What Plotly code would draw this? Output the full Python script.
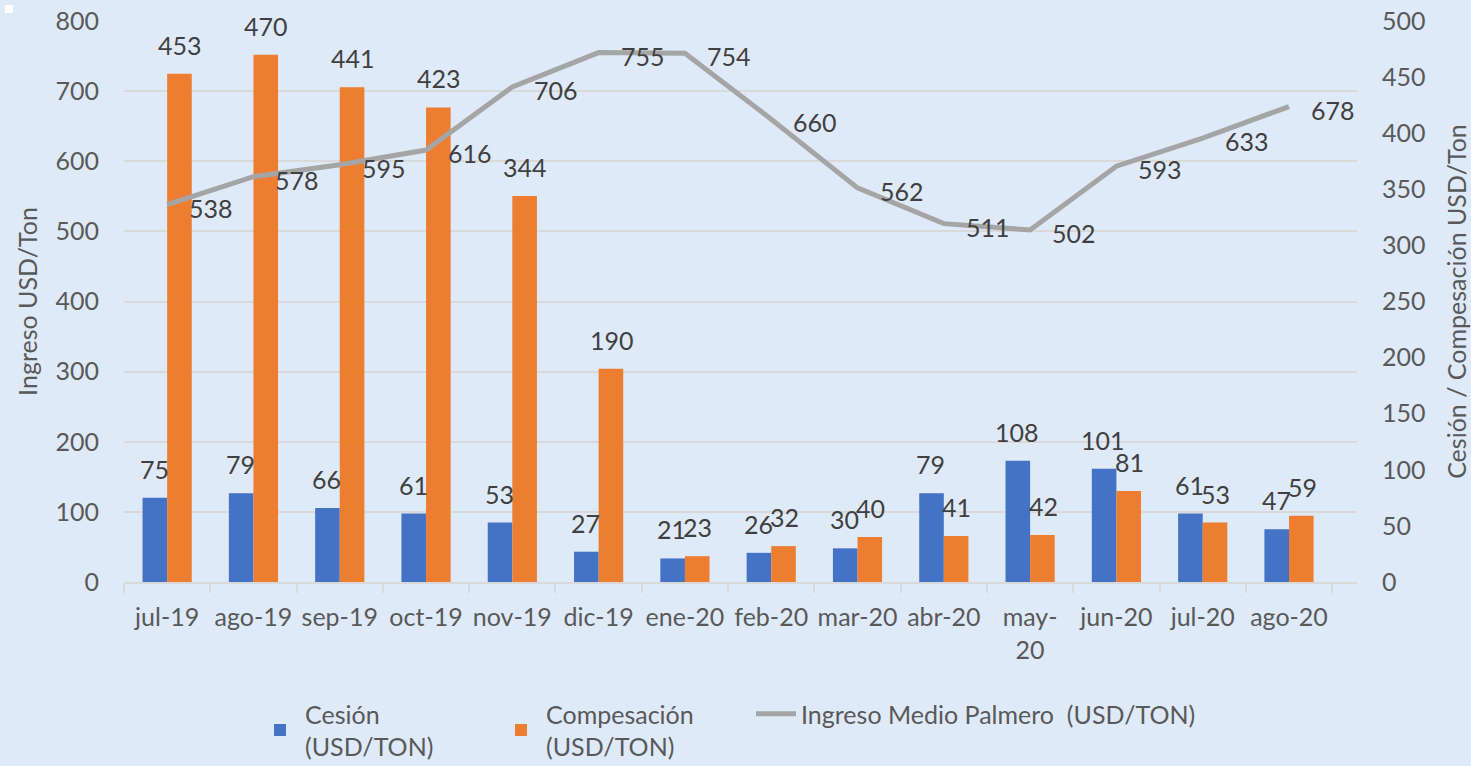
import plotly.graph_objects as go

categories = ["jul-19", "ago-19", "sep-19", "oct-19", "nov-19", "dic-19", "ene-20",
              "feb-20", "mar-20", "abr-20", "may-<br>20", "jun-20", "jul-20", "ago-20"]
cesion = [75, 79, 66, 61, 53, 27, 21, 26, 30, 79, 108, 101, 61, 47]
compesacion = [453, 470, 441, 423, 344, 190, 23, 32, 40, 41, 42, 81, 53, 59]
ingreso = [538, 578, 595, 616, 706, 755, 754, 660, 562, 511, 502, 593, 633, 678]
left_ticks = [0, 100, 200, 300, 400, 500, 600, 700, 800]
right_ticks = [0, 50, 100, 150, 200, 250, 300, 350, 400, 450, 500]

FONT = "Lato"
TICK_COLOR = "#595959"
LABEL_COLOR = "#404040"
BG = "#DEEAF8"
GRID = "#D9D9D9"
FS = 25

W, H = 1471, 766
ml, mr, mt, mb = 124, 114, 21, 184
pw = W - ml - mr
ph = H - mt - mb

fig = go.Figure()
fig.add_trace(go.Bar(
    x=categories, y=cesion, name="Cesión<br>(USD/TON)", yaxis="y",
    marker=dict(color="#4472C4", line=dict(width=0)), legend="legend",
))
fig.add_trace(go.Bar(
    x=categories, y=compesacion, name="Compesación<br>(USD/TON)", yaxis="y",
    marker=dict(color="#ED7D31", line=dict(width=0)), legend="legend2",
))
fig.add_trace(go.Scatter(
    x=categories, y=ingreso, name="Ingreso Medio Palmero  (USD/TON)", yaxis="y2",
    mode="lines", line=dict(color="#A5A5A5", width=5), legend="legend3",
))

annotations = []
for c, v in zip(categories, cesion):
    annotations.append(dict(x=c, y=v, xref="x", yref="y", text=str(v), showarrow=False,
                            xshift=-13, yshift=29, yanchor="middle",
                            font=dict(family=FONT, size=FS, color=LABEL_COLOR)))
for c, v in zip(categories, compesacion):
    annotations.append(dict(x=c, y=v, xref="x", yref="y", text=str(v), showarrow=False,
                            xshift=13, yshift=29, yanchor="middle",
                            font=dict(family=FONT, size=FS, color=LABEL_COLOR)))
for c, v in zip(categories, ingreso):
    annotations.append(dict(x=c, y=v, xref="x", yref="y2", text=str(v), showarrow=False,
                            xanchor="left", xshift=20, yshift=-3, yanchor="middle",
                            font=dict(family=FONT, size=FS, color=LABEL_COLOR)))

def lx(px):
    return (px - ml) / pw

def ly(py):
    return (H - mb - py) / ph

legend_common = dict(orientation="v", yanchor="top", xanchor="left",
                     font=dict(family=FONT, size=FS, color=TICK_COLOR),
                     bgcolor="rgba(0,0,0,0)", borderwidth=0, itemwidth=40)

fig.update_layout(
    width=W, height=H,
    margin=dict(l=ml, r=mr, t=mt, b=mb, autoexpand=False),
    paper_bgcolor=BG, plot_bgcolor=BG,
    font=dict(family=FONT, size=FS, color=TICK_COLOR),
    barmode="group", bargap=0.43, bargroupgap=0,
    xaxis=dict(
        type="category", showline=True, linecolor=GRID, linewidth=2,
        ticks="outside", tickson="boundaries", ticklen=9, tickcolor=GRID,
        tickwidth=2, showgrid=False, tickangle=0, automargin=False,
        ticklabelstandoff=12, tickfont=dict(size=FS, color=TICK_COLOR),
    ),
    yaxis=dict(
        range=[0, 500], tickvals=right_ticks, side="right", automargin=False,
        showgrid=False, zeroline=False, showline=False,
        title=dict(text="Cesión / Compesación USD/Ton", font=dict(size=FS, color=TICK_COLOR), standoff=24),
        tickfont=dict(size=FS, color=TICK_COLOR), ticks="", ticklabelstandoff=24,
    ),
    yaxis2=dict(
        range=[0, 800], tickvals=left_ticks, overlaying="y", side="left", automargin=False,
        showgrid=True, gridcolor=GRID, gridwidth=2, zeroline=False, showline=False,
        title=dict(text="Ingreso USD/Ton", font=dict(size=FS, color=TICK_COLOR), standoff=10),
        tickfont=dict(size=FS, color=TICK_COLOR), ticks="", ticklabelstandoff=24,
    ),
    legend=dict(x=lx(255), y=ly(691), **legend_common),
    legend2=dict(x=lx(496), y=ly(691), **legend_common),
    legend3=dict(x=lx(751), y=ly(691), **legend_common),
    showlegend=True,
    annotations=annotations,
)

# small white square artifact in top-left corner
fig.add_shape(type="rect", xref="paper", yref="paper",
              x0=(5 - ml) / pw, x1=(13 - ml) / pw,
              y0=1 + (mt - 13) / ph, y1=1 + (mt - 5) / ph,
              fillcolor="white", line=dict(width=0))

fig.write_html("out.html", config={"displayModeBar": False},
               post_script="document.body.style.margin='0';document.body.style.overflow='hidden';")
